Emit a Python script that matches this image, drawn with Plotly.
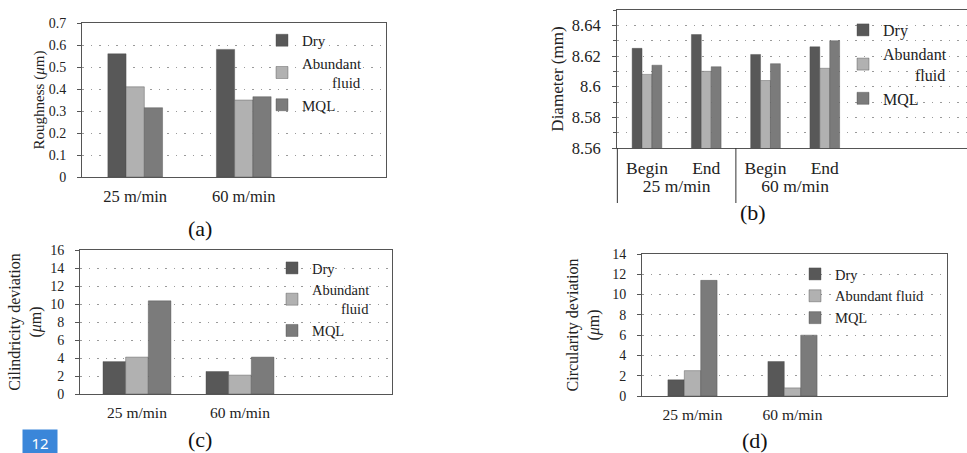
import plotly.graph_objects as go

W, H = 967, 453

# ---------------- data ----------------
series = ["Dry", "Abundant fluid", "MQL"]
colors = ["#585858", "#b1b1b1", "#7b7b7b"]

speeds = ["25 m/min", "60 m/min"]

rough_dry = [0.56, 0.58]
rough_ab = [0.41, 0.35]
rough_mql = [0.315, 0.365]

diam_speed = ["25 m/min", "25 m/min", "60 m/min", "60 m/min"]
diam_stage = ["Begin", "End", "Begin", "End"]
diam_dry = [8.625, 8.634, 8.621, 8.626]
diam_ab = [8.608, 8.610, 8.604, 8.612]
diam_mql = [8.614, 8.613, 8.615, 8.630]

cyl_dry = [3.6, 2.5]
cyl_ab = [4.1, 2.1]
cyl_mql = [10.35, 4.1]

circ_dry = [1.6, 3.4]
circ_ab = [2.5, 0.8]
circ_mql = [11.4, 6.0]

FONT = "Liberation Serif"
AXC = "#555555"
GRIDC = "#9a9a9a"
DOT = "1.5px,7px"
TXT = "#222"


def px_x(p):
    return p / W


def px_y(p):
    return 1 - p / H


fig = go.Figure()

NB = "\u00a0"
ab2 = "Abundant<br>" + NB * 8 + "fluid"

panels = [
    ("a", "x", "y", "legend", speeds, [rough_dry, rough_ab, rough_mql], 0.168, ["Dry", ab2, "MQL"]),
    ("b", "x2", "y2", "legend2", [diam_speed, diam_stage], [diam_dry, diam_ab, diam_mql], 0.167, ["Dry", ab2, "MQL"]),
    ("c", "x3", "y3", "legend3", speeds, [cyl_dry, cyl_ab, cyl_mql], 0.22, ["Dry", ab2, "MQL"]),
    ("d", "x4", "y4", "legend4", speeds, [circ_dry, circ_ab, circ_mql], 0.164, ["Dry", "Abundant fluid", "MQL"]),
]

for key, xa, ya, lg, cats, vals, bw, names in panels:
    for i, (v, c, n) in enumerate(zip(vals, colors, names)):
        fig.add_trace(go.Bar(
            x=cats, y=v, name=n, width=bw, offset=-1.5 * bw + i * bw,
            marker=dict(color=c, line=dict(color="#4a4a4a", width=0.4)),
            xaxis=xa, yaxis=ya, legend=lg, legendgroup=key + str(i),
            showlegend=True,
        ))


def yax(dom_px, rng, dtick, title, anchor, tfs=14, titfs=15, tickfmt=None, minor=None, standoff=6):
    d = dict(
        domain=[px_y(dom_px[1]), px_y(dom_px[0])], range=rng, dtick=dtick, anchor=anchor,
        showline=True, linecolor=AXC, linewidth=1, mirror=True, automargin=False,
        ticks="outside", ticklen=4, tickcolor=AXC, ticklabelstandoff=8,
        showgrid=True, gridcolor=GRIDC, griddash=DOT, gridwidth=1,
        zeroline=False,
        tickfont=dict(family=FONT, size=tfs, color=TXT),
        title=dict(text=title, font=dict(family=FONT, size=titfs, color=TXT), standoff=standoff),
    )
    if tickfmt:
        d["tickformat"] = tickfmt
    if minor:
        d["minor"] = minor
    return d


def xax(dom_px, rng, anchor, tfs=16):
    return dict(
        domain=[px_x(dom_px[0]), px_x(dom_px[1])], range=rng, anchor=anchor,
        showline=True, linecolor=AXC, linewidth=1, mirror=True, automargin=False,
        ticks="", showgrid=False, zeroline=False, ticklabelstandoff=4,
        tickfont=dict(family=FONT, size=tfs, color=TXT),
    )


XB = [-0.506, 5.4]
fig.update_layout(
    width=W, height=H, margin=dict(l=0, r=0, t=0, b=0, autoexpand=False),
    paper_bgcolor="white", plot_bgcolor="white",
    barmode="overlay", showlegend=True,
    xaxis=xax([82, 386], [-0.49, 2.31], "y", tfs=16.5),
    yaxis=yax([23, 177], [0, 0.7], 0.1, "Roughness (<i>μ</i>m)", "x", standoff=0),
    xaxis2=dict(xax([617, 967], XB, "y2", tfs=17.5), showdividers=False),
    yaxis2=yax([10, 148], [8.56, 8.65], 0.02, "Diameter (mm)", "x2", tfs=16.5, titfs=17,
               tickfmt="~r", standoff=3,
               minor=dict(dtick=0.01, ticks="outside", ticklen=3, tickcolor=AXC,
                          showgrid=True, gridcolor=GRIDC, griddash=DOT)),
    xaxis3=xax([80, 392], [-0.553, 2.476], "y3", tfs=15.5),
    yaxis3=yax([250, 394], [0, 16], 2, "Cilindricity deviation<br>(<i>μ</i>m)", "x3",
               titfs=16, standoff=4),
    xaxis4=xax([642, 947], [-0.505, 2.545], "y4", tfs=15.5),
    yaxis4=yax([254, 396], [0, 14], 2, "Circularity deviation<br>(<i>μ</i>m)", "x4",
               titfs=16, standoff=8),
)

# group dividers under the hierarchical axis of panel (b)
for idx in [-0.5, 1.5]:
    xf = (idx - XB[0]) / (XB[1] - XB[0])
    fig.add_shape(type="line", xref="x2 domain", yref="paper",
                  x0=xf, x1=xf, y0=px_y(148), y1=px_y(203),
                  line=dict(color="#333", width=1))

common = dict(xanchor="left", yanchor="top", bgcolor="rgba(0,0,0,0)",
              tracegroupgap=0, itemclick=False)
fig.update_layout(
    legend=dict(common, x=px_x(262), y=px_y(24), font=dict(family=FONT, size=15, color=TXT)),
    legend2=dict(common, x=px_x(843), y=px_y(13), font=dict(family=FONT, size=16, color=TXT)),
    legend3=dict(common, x=px_x(272), y=px_y(252), font=dict(family=FONT, size=14.5, color=TXT)),
    legend4=dict(common, x=px_x(795), y=px_y(258),
                 font=dict(family=FONT, size=14.5, color=TXT)),
)

labels = [("(a)", 200, 228), ("(b)", 753, 213), ("(c)", 200, 439), ("(d)", 755, 440)]
for t, x, y in labels:
    fig.add_annotation(text=t, x=px_x(x), y=px_y(y), xref="paper", yref="paper",
                       xanchor="center", yanchor="middle",
                       showarrow=False, font=dict(family=FONT, size=22, color="#111"))

fig.add_annotation(text="12", x=px_x(40), y=px_y(442), xref="paper", yref="paper",
                   xanchor="center", yanchor="middle", width=30, height=21,
                   showarrow=False, bgcolor="#3a86d9", borderpad=2,
                   font=dict(family="Noto Sans", size=15, color="white"))

fig.write_html("out.html", config={"displayModeBar": False},
               post_script="document.body.style.margin='0';document.body.style.overflow='hidden';")
